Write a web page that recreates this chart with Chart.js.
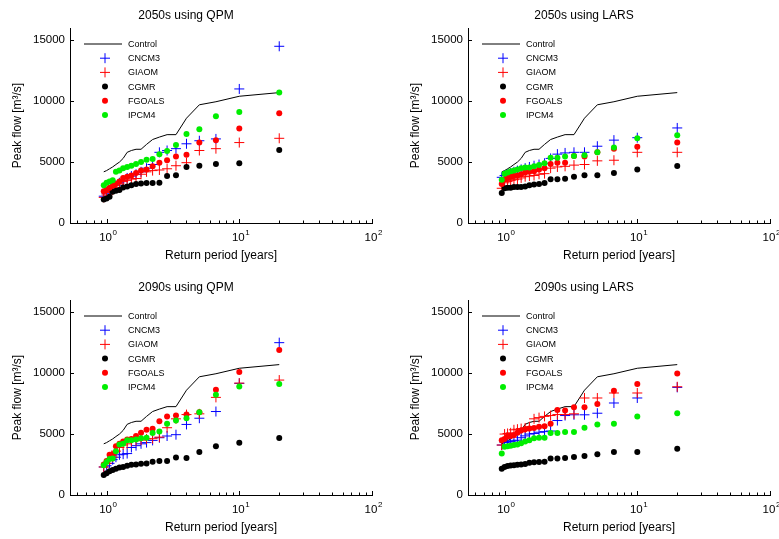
<!DOCTYPE html>
<html>
<head>
<meta charset="utf-8">
<script src="https://cdn.jsdelivr.net/npm/chart.js@4.4.0/dist/chart.umd.min.js"></script>
<style>
html, body { margin: 0; padding: 0; background: #fff; overflow: hidden; width: 779px; height: 539px; }
.panel { position: absolute; width: 390px; height: 270px; }
</style>
</head>
<body>
<div class="panel" style="left:0;top:0"><canvas id="c1" width="390" height="270"></canvas></div>
<div class="panel" style="left:398px;top:0"><canvas id="c2" width="390" height="270"></canvas></div>
<div class="panel" style="left:0;top:272px"><canvas id="c3" width="390" height="270"></canvas></div>
<div class="panel" style="left:398px;top:272px"><canvas id="c4" width="390" height="270"></canvas></div>
<script>
// return periods (years) of the ranked peaks
const returnPeriod = [0.952, 1.0, 1.053, 1.111, 1.176, 1.25, 1.333, 1.429, 1.538, 1.667, 1.818, 2.0, 2.222, 2.5, 2.857, 3.333, 4.0, 5.0, 6.667, 10, 20];
const control = [4200, 4300, 4450, 4600, 4800, 5000, 5300, 5800, 5950, 6050, 6050, 6450, 6850, 7050, 7250, 7250, 8600, 9700, 9950, 10400, 10700];

const modelNames = ['CNCM3', 'GIAOM', 'CGMR', 'FGOALS', 'IPCM4'];
const yTicks = [0, 5000, 10000, 15000];
const xMajor = [1, 10, 100];
const xMinor = [0.6, 0.7, 0.8, 0.9, 2, 3, 4, 5, 6, 7, 8, 9, 20, 30, 40, 50, 60, 70, 80, 90];

// 2050s QPM
const qpm2050_CNCM3 = [2200, 2400, 2600, 2800, 3100, 3300, 3500, 3700, 3850, 4000, 4200, 4500, 4800, 5800, 5950, 6100, 6500, 6750, 6900, 11000, 14500];
const qpm2050_GIAOM = [2100, 2300, 2500, 2700, 2900, 3200, 3400, 3500, 3600, 3650, 4000, 4200, 4300, 4350, 4450, 4700, 4950, 5950, 6100, 6600, 6950];
const qpm2050_CGMR = [1920, 2020, 2160, 2570, 2650, 2700, 2920, 3000, 3100, 3200, 3250, 3280, 3280, 3300, 3850, 3920, 4600, 4700, 4850, 4900, 6000];
const qpm2050_FGOALS = [2600, 2750, 2900, 3050, 3200, 3400, 3700, 3800, 3900, 4100, 4300, 4400, 4650, 4950, 5150, 5450, 5600, 6600, 6800, 7750, 9000];
const qpm2050_IPCM4 = [3100, 3300, 3400, 3500, 4200, 4300, 4500, 4600, 4700, 4850, 5000, 5200, 5250, 5650, 5900, 6400, 7300, 7700, 8750, 9100, 10700];

// 2050s LARS
const lars2050_CNCM3 = [3750, 3900, 4000, 4100, 4200, 4300, 4400, 4500, 4600, 4700, 4800, 4900, 5300, 5650, 5750, 5800, 5800, 6300, 6800, 7000, 7800];
const lars2050_GIAOM = [2850, 3300, 3400, 3500, 3550, 3600, 3700, 3800, 3850, 3900, 4000, 4050, 4500, 4600, 4650, 4750, 4800, 5100, 5150, 5800, 5800];
const lars2050_CGMR = [2460, 2850, 2900, 2900, 2950, 2950, 2950, 3000, 3100, 3150, 3200, 3280, 3590, 3590, 3640, 3800, 3910, 3910, 4100, 4380, 4680];
const lars2050_FGOALS = [3200, 3600, 3700, 3800, 3850, 3900, 4000, 4150, 4200, 4250, 4400, 4500, 4850, 4950, 4950, 5500, 5450, 5800, 6100, 6250, 6600];
const lars2050_IPCM4 = [3550, 4050, 4150, 4250, 4300, 4400, 4500, 4550, 4550, 4650, 4750, 4900, 5350, 5350, 5450, 5500, 5550, 5800, 6200, 6950, 7200];

// 2090s QPM
const qpm2090_CNCM3 = [2300, 2400, 2600, 2900, 3100, 3300, 3350, 3400, 3900, 4050, 4200, 4300, 4480, 4700, 4840, 4950, 5790, 6300, 6850, 9160, 12500];
const qpm2090_GIAOM = [2300, 2600, 2900, 3100, 3600, 3900, 4100, 4200, 4400, 4450, 4500, 4600, 4620, 4750, 5520, 6250, 6600, 6660, 8010, 9180, 9430];
const qpm2090_CGMR = [1650, 1780, 1950, 2050, 2150, 2250, 2300, 2400, 2480, 2500, 2560, 2580, 2720, 2800, 2800, 3070, 3040, 3530, 3990, 4290, 4670];
const qpm2090_FGOALS = [2500, 2800, 3300, 3350, 4000, 4200, 4400, 4550, 4600, 4850, 5100, 5350, 5430, 6060, 6440, 6520, 6600, 6790, 8640, 10100, 11900];
const qpm2090_IPCM4 = [2450, 2700, 2950, 3000, 3600, 4150, 4200, 4500, 4500, 4550, 4650, 4700, 5080, 5220, 5840, 6110, 6300, 6790, 8230, 8910, 9100];

// 2090s LARS
const lars2090_CNCM3 = [4100, 4300, 4350, 4400, 4450, 4500, 4700, 4850, 5000, 5050, 5150, 5200, 5250, 6110, 6520, 6580, 6580, 6710, 7550, 7960, 8830];
const lars2090_GIAOM = [4100, 5000, 5050, 5100, 5350, 5400, 5450, 5500, 5600, 6250, 6350, 6450, 6520, 6600, 6600, 6660, 7960, 7960, 8370, 8370, 8880];
const lars2090_CGMR = [2150, 2300, 2380, 2420, 2450, 2480, 2500, 2550, 2650, 2680, 2700, 2720, 2990, 2990, 3040, 3120, 3210, 3340, 3530, 3530, 3800];
const lars2090_FGOALS = [4500, 4600, 4800, 4850, 4900, 5100, 5300, 5400, 5450, 5500, 5600, 5650, 5840, 6980, 6930, 7200, 7200, 7470, 8560, 9100, 9970];
const lars2090_IPCM4 = [3400, 3950, 4000, 4050, 4100, 4150, 4250, 4400, 4500, 4650, 4700, 4700, 5080, 5080, 5160, 5160, 5520, 5790, 5840, 6440, 6710];

const panels = [
    { id: 'c1', title: '2050s using QPM', series: [qpm2050_CNCM3, qpm2050_GIAOM, qpm2050_CGMR, qpm2050_FGOALS, qpm2050_IPCM4] },
    { id: 'c2', title: '2050s using LARS', series: [lars2050_CNCM3, lars2050_GIAOM, lars2050_CGMR, lars2050_FGOALS, lars2050_IPCM4] },
    { id: 'c3', title: '2090s using QPM', series: [qpm2090_CNCM3, qpm2090_GIAOM, qpm2090_CGMR, qpm2090_FGOALS, qpm2090_IPCM4] },
    { id: 'c4', title: '2090s using LARS', series: [lars2090_CNCM3, lars2090_GIAOM, lars2090_CGMR, lars2090_FGOALS, lars2090_IPCM4] }
];

const styles = [
    { color: '#0000ff', shape: 'cross' },
    { color: '#ff0000', shape: 'cross' },
    { color: '#000000', shape: 'circle' },
    { color: '#ff0000', shape: 'circle' },
    { color: '#00ee00', shape: 'circle' }
];

const FONT = '"Liberation Sans", Arial, sans-serif';
Chart.defaults.font.family = FONT;
Chart.defaults.color = '#000';

function drawMarker(ctx, shape, color, x, y) {
    ctx.beginPath();
    if (shape === 'cross') {
        ctx.strokeStyle = color;
        ctx.lineWidth = 1;
        ctx.moveTo(x - 5, y); ctx.lineTo(x + 5, y);
        ctx.moveTo(x, y - 5); ctx.lineTo(x, y + 5);
        ctx.stroke();
    } else {
        ctx.fillStyle = color;
        ctx.arc(x, y, 3, 0, Math.PI * 2);
        ctx.fill();
    }
}

// inward ticks, 10^n labels and the legend box inside the axes
const axisDecor = {
    id: 'axisDecor',
    afterDraw(chart) {
        const { ctx, chartArea: a, scales: { x, y } } = chart;
        ctx.save();
        ctx.strokeStyle = '#000';
        ctx.lineWidth = 1;
        ctx.beginPath();
        xMinor.forEach(v => {
            const px = Math.round(x.getPixelForValue(v)) + 0.5;
            ctx.moveTo(px, a.bottom); ctx.lineTo(px, a.bottom - 2.5);
        });
        xMajor.forEach(v => {
            const px = Math.round(x.getPixelForValue(v)) + 0.5;
            ctx.moveTo(px, a.bottom); ctx.lineTo(px, a.bottom - 4);
        });
        yTicks.forEach(v => {
            const py = Math.round(y.getPixelForValue(v)) + 0.5;
            ctx.moveTo(a.left, py); ctx.lineTo(a.left + 4, py);
        });
        ctx.stroke();

        ctx.fillStyle = '#000';
        ctx.textBaseline = 'alphabetic';
        ctx.textAlign = 'left';
        xMajor.forEach(v => {
            const px = x.getPixelForValue(v);
            ctx.font = '11.5px ' + FONT;
            const w = ctx.measureText('10').width;
            ctx.fillText('10', px - w / 2 - 1, a.bottom + 18);
            ctx.font = '8px ' + FONT;
            ctx.fillText(String(Math.round(Math.log10(v))), px + w / 2 - 0.5, a.bottom + 12);
        });

        const ds = chart.data.datasets;
        ctx.font = '9px ' + FONT;
        ctx.textBaseline = 'middle';
        ds.forEach((d, i) => {
            const ly = a.top + 16 + i * 14.2;
            if (i === 0) {
                ctx.beginPath();
                ctx.strokeStyle = '#000';
                ctx.moveTo(a.left + 14, ly); ctx.lineTo(a.left + 52, ly);
                ctx.stroke();
            } else {
                const s = styles[i - 1];
                drawMarker(ctx, s.shape, s.color, a.left + 35, ly);
            }
            ctx.fillStyle = '#000';
            ctx.fillText(d.label, a.left + 58, ly + 0.5);
        });
        ctx.restore();
    }
};

panels.forEach(p => {
    const datasets = [{
        label: 'Control',
        type: 'line',
        data: returnPeriod.map((t, i) => ({ x: t, y: control[i] })),
        borderColor: '#000',
        borderWidth: 1,
        pointRadius: 0,
        fill: false,
        tension: 0,
        order: 10
    }];
    p.series.forEach((vals, k) => {
        const s = styles[k];
        datasets.push({
            label: modelNames[k],
            data: returnPeriod.map((t, i) => ({ x: t, y: vals[i] })),
            pointStyle: s.shape === 'cross' ? 'cross' : 'circle',
            pointRadius: s.shape === 'cross' ? 5 : 3,
            borderWidth: s.shape === 'cross' ? 1 : 0,
            borderColor: s.color,
            backgroundColor: s.color,
            order: 5 - k
        });
    });

    new Chart(document.getElementById(p.id), {
        type: 'scatter',
        data: { datasets },
        options: {
            responsive: false,
            animation: false,
            layout: { padding: { left: 0, right: 18, top: 0, bottom: 0 } },
            plugins: {
                legend: { display: false },
                tooltip: { enabled: false },
                title: {
                    display: true,
                    text: p.title,
                    color: '#000',
                    font: { size: 12, weight: 'normal' },
                    padding: { top: 8, bottom: 5.6 }
                }
            },
            scales: {
                x: {
                    type: 'logarithmic',
                    min: 0.53,
                    max: 100,
                    grid: { display: false, drawTicks: false },
                    border: { display: true, color: '#000', width: 1 },
                    ticks: { display: false },
                    title: { display: true, text: 'Return period [years]', font: { size: 12 }, padding: { top: 0, bottom: 7 } },
                    afterFit(s) { s.height = 47; }
                },
                y: {
                    min: 0,
                    max: 16000,
                    afterBuildTicks(s) { s.ticks = yTicks.map(v => ({ value: v })); },
                    grid: { display: false, drawTicks: false },
                    border: { display: true, color: '#000', width: 1 },
                    ticks: { font: { size: 11.5 }, padding: 5, callback: v => String(v) },
                    title: { display: true, text: 'Peak flow [m³/s]', font: { size: 12 }, padding: { top: 10, bottom: 0 } },
                    afterFit(s) { s.width = 70; }
                }
            }
        },
        plugins: [axisDecor]
    });
});
</script>
</body>
</html>
